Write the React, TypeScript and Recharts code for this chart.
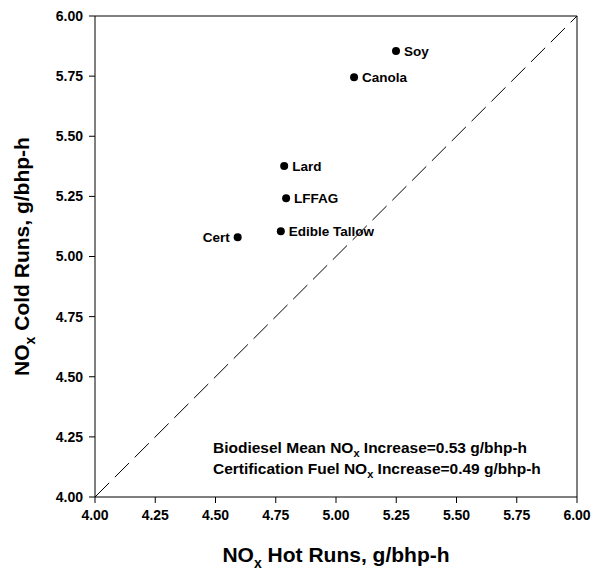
import { ScatterChart, Scatter, XAxis, YAxis, ReferenceLine } from 'recharts';

const fuels = ['Soy', 'Canola', 'Lard', 'LFFAG', 'Edible Tallow', 'Cert'];
const hotRuns = [5.249, 5.075, 4.785, 4.793, 4.771, 4.592];
const coldRuns = [5.854, 5.745, 5.376, 5.242, 5.105, 5.08];
const axisTicks = [4.0, 4.25, 4.5, 4.75, 5.0, 5.25, 5.5, 5.75, 6.0];
const leftLabeled = ['Cert'];
const notes = [
  ['Biodiesel Mean NO', 'x', ' Increase=0.53 g/bhp-h'],
  ['Certification Fuel NO', 'x', ' Increase=0.49 g/bhp-h'],
];

const data = fuels.map((name, i) => ({ name, hot: hotRuns[i], cold: coldRuns[i] }));

const FONT = 'Arial, "Liberation Sans", sans-serif';

function Dot(props: any) {
  const { cx, cy, payload } = props;
  const left = leftLabeled.includes(payload.name);
  return (
    <g>
      <circle cx={cx} cy={cy} r={4} fill="#000" />
      <text
        x={left ? cx - 8 : cx + 8}
        y={cy + 5}
        textAnchor={left ? 'end' : 'start'}
        fontFamily={FONT}
        fontWeight="bold"
        fontSize={13.5}
        fill="#000"
      >
        {payload.name}
      </text>
    </g>
  );
}

function XTitle(props: any) {
  const { viewBox } = props;
  const cx = viewBox.x + viewBox.width / 2;
  return (
    <text x={cx} y={562} textAnchor="middle" fontFamily={FONT} fontWeight="bold" fontSize={21} fill="#000">
      NO<tspan fontSize={14} dy={6}>x</tspan>
      <tspan dy={-6}> Hot Runs, g/bhp-h</tspan>
    </text>
  );
}

function YTitle(props: any) {
  const { viewBox } = props;
  const cy = viewBox.y + viewBox.height / 2;
  const cx = 29;
  return (
    <text
      x={cx}
      y={cy}
      transform={`rotate(-90, ${cx}, ${cy})`}
      textAnchor="middle"
      fontFamily={FONT}
      fontWeight="bold"
      fontSize={21}
      fill="#000"
    >
      NO<tspan fontSize={14} dy={6}>x</tspan>
      <tspan dy={-6}> Cold Runs, g/bhp-h</tspan>
    </text>
  );
}

const tickStyle = { fill: '#000', fontFamily: FONT, fontWeight: 'bold', fontSize: 14 };

export default function App() {
  return (
    <div style={{ position: 'absolute', left: 0, top: 0, width: 594, height: 570, background: '#fff' }}>
      <ScatterChart width={594} height={570} margin={{ top: 16, right: 17, bottom: 0, left: 0 }}>
        <XAxis
          type="number"
          dataKey="hot"
          domain={[4, 6]}
          ticks={axisTicks}
          tickFormatter={(v: number) => v.toFixed(2)}
          height={73}
          stroke="#000"
          tickSize={6}
          tickMargin={7}
          tick={tickStyle}
          label={<XTitle />}
          allowDataOverflow
        />
        <YAxis
          type="number"
          dataKey="cold"
          domain={[4, 6]}
          ticks={axisTicks}
          tickFormatter={(v: number) => v.toFixed(2)}
          width={95}
          stroke="#000"
          tickSize={6}
          tickMargin={6}
          tick={tickStyle}
          label={<YTitle />}
          allowDataOverflow
        />
        <ReferenceLine y={6} stroke="#000" />
        <ReferenceLine x={6} stroke="#000" />
        <ReferenceLine
          segment={[{ x: 4, y: 4 }, { x: 6, y: 6 }]}
          stroke="#000"
          strokeWidth={1}
          strokeDasharray="20 8"
        />
        <Scatter data={data} shape={<Dot />} isAnimationActive={false} />
      </ScatterChart>
      <div
        style={{
          position: 'absolute',
          left: 213,
          top: 437,
          fontFamily: FONT,
          fontWeight: 'bold',
          fontSize: 15.5,
          lineHeight: '21px',
          color: '#000',
          whiteSpace: 'nowrap',
        }}
      >
        {notes.map((n, i) => (
          <div key={i}>
            {n[0]}
            <sub style={{ fontSize: 11, lineHeight: 0 }}>{n[1]}</sub>
            {n[2]}
          </div>
        ))}
      </div>
    </div>
  );
}
